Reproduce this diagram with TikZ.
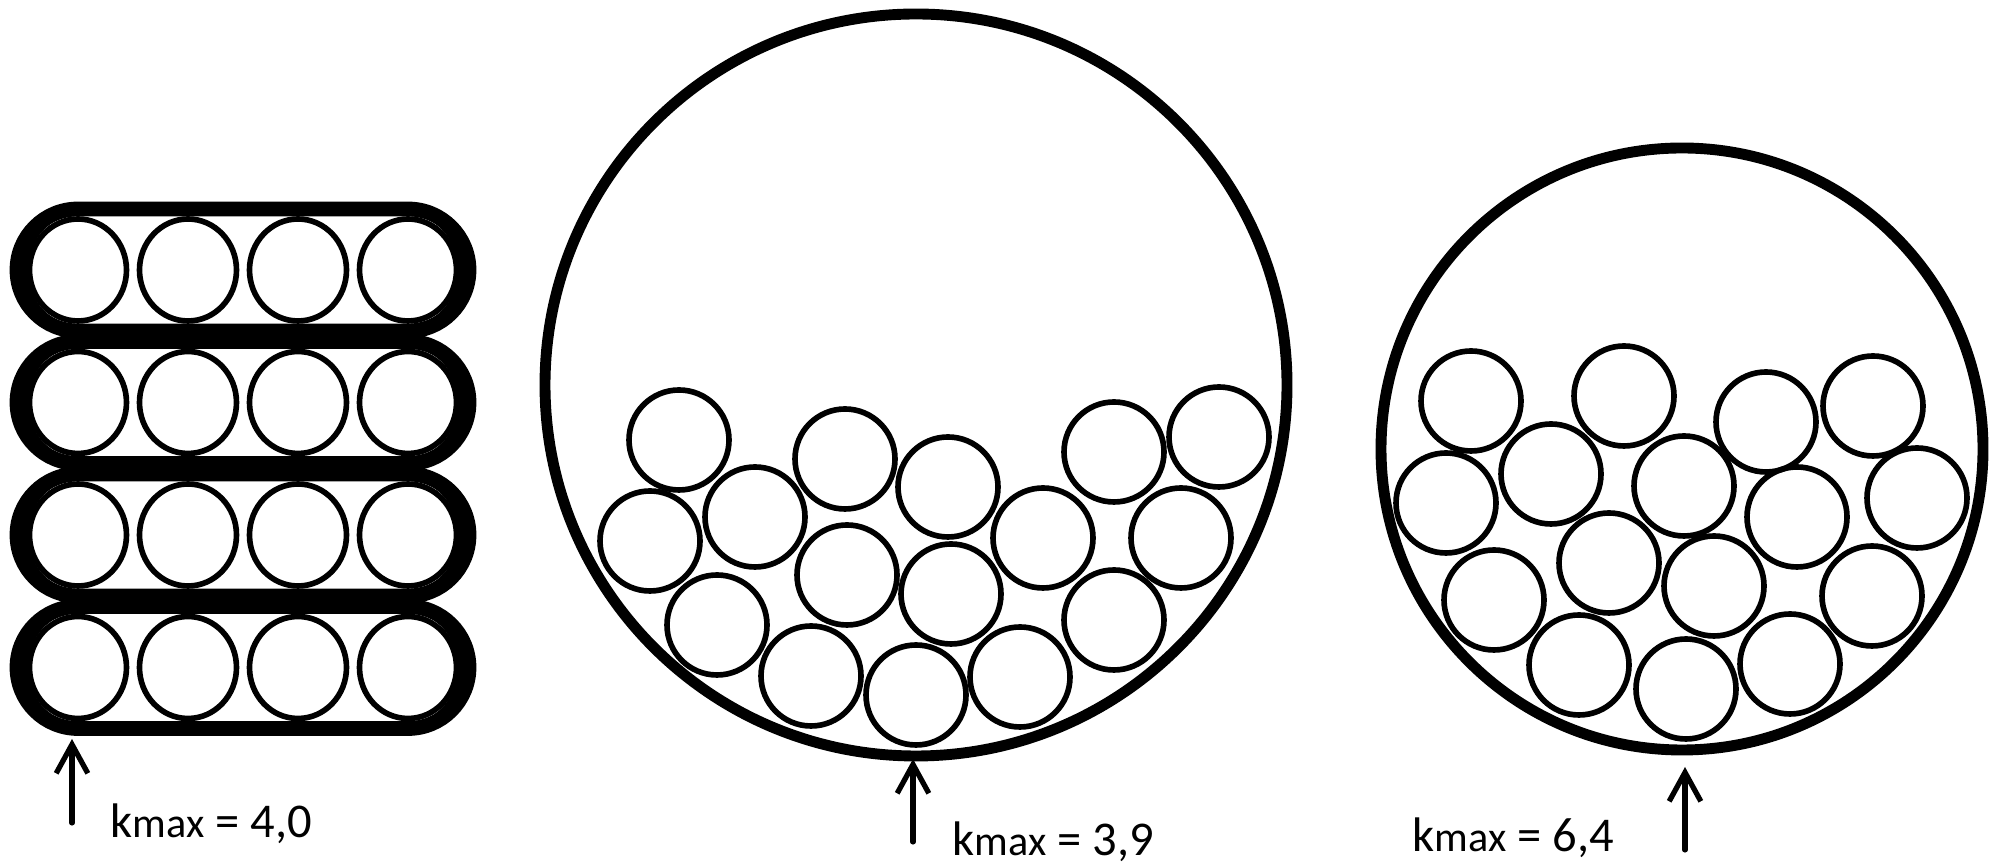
\documentclass[tikz,border=0pt]{standalone}
\usepackage{fontspec}
\newfontfamily\labelfont{Carlito}
\usetikzlibrary{arrows.meta}

\begin{document}
\begin{tikzpicture}[
        x=0.01cm, y=-0.01cm,
        ball/.style={line width=1.6pt},
        drum/.style={line width=3.1pt},
        band/.style={line width=4.2pt, line join=round},
        arrow/.style={line width=1.45pt, line cap=round, -{Straight Barb[length=8.2pt, width=9pt, line width=1.5pt]}},
        kmax/.style={font=\labelfont\fontsize{13.8}{16}\selectfont, inner sep=0pt, anchor=base west}
    ]
    \path[fill=white] (0,0) rectangle (1991,865);

    % left: four rows of four in bands
    \foreach \y in {270,402.5,535,667.5} {
        \draw[band] (78,\y-61) -- (408,\y-61) arc[start angle=-90, end angle=90, radius=61] -- (78,\y+61) arc[start angle=90, end angle=270, radius=61] -- cycle;
        \fill (78,\y-61) arc[start angle=270, end angle=90, radius=61] -- (78,\y+55) arc[start angle=90, end angle=270, x radius=50, y radius=55] -- cycle;
        \fill (408,\y-61) arc[start angle=-90, end angle=90, radius=61] -- (408,\y+55) arc[start angle=90, end angle=-90, x radius=50, y radius=55] -- cycle;
        \foreach \x in {78,188,298,408}
            \draw[ball] (\x,\y) circle[x radius=48.5, y radius=51];
    }

    % middle drum
    \draw[drum] (916,385) circle[radius=371];
    \foreach \cx/\cy in {679/440, 650/541, 755/517, 845/459, 948/487, 847/575, 951/594, 717/625,
                         1043/538, 1114/452, 1219/437, 1181/538, 1114/620, 811/676, 916/695, 1020/677}
        \draw[ball] (\cx,\cy) circle[radius=50];

    % right drum
    \draw[drum] (1682,449) circle[radius=301];
    \foreach \cx/\cy in {1471/401, 1624/396, 1766/422, 1873/406, 1446/503, 1551/474, 1684/486, 1797/517,
                         1917/498, 1494/600, 1609/563, 1714/586, 1872/596, 1579/665, 1686/689, 1790/664}
        \draw[ball] (\cx,\cy) circle[radius=50];

    % arrows and labels
    \coordinate (tailL) at (72,823);
    \coordinate (tipL) at (72,739);
    \coordinate (tailM) at (913,842);
    \coordinate (tipM) at (913,759);
    \coordinate (tailR) at (1685,850);
    \coordinate (tipR) at (1685,767);
    \draw[arrow] (tailL) -- (tipL);
    \draw[arrow] (tailM) -- (tipM);
    \draw[arrow] (tailR) -- (tipR);

    \node[kmax] (kL) at (110,838) {k{\fontsize{12}{14}\selectfont max} = 4,0};
    \node[kmax] (kM) at (952,856) {k{\fontsize{12}{14}\selectfont max} = 3,9};
    \node[kmax] (kR) at (1412,852) {k{\fontsize{12}{14}\selectfont max} = 6,4};
\end{tikzpicture}
\end{document}
